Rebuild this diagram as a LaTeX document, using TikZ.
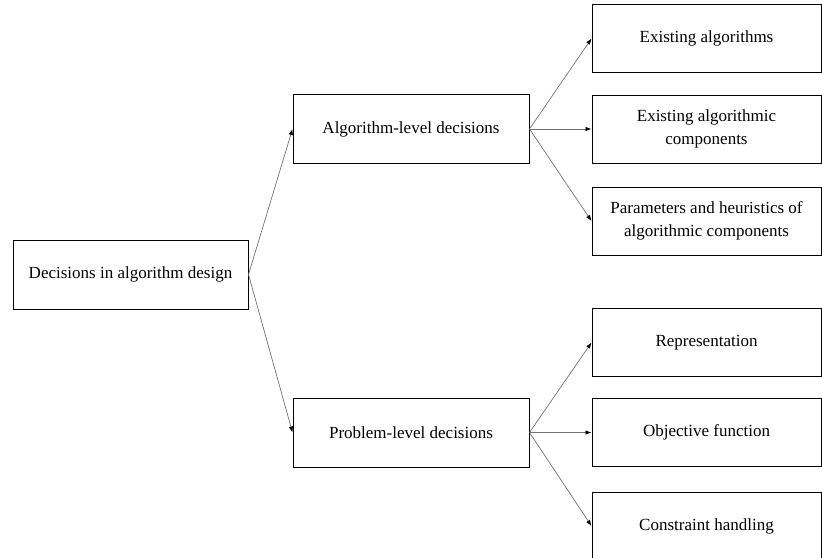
\documentclass[tikz,border=0pt]{standalone}
\usepackage{fontspec}
\setmainfont{Liberation Serif}
\usetikzlibrary{arrows.meta}
\tikzset{
  box/.style={draw=black, line width=1pt, rectangle, align=center,
    inner sep=0pt, font=\fontsize{17}{23.5}\selectfont},
  rootbox/.style={box, minimum width=235pt, minimum height=69pt},
  midbox/.style={box, minimum width=236pt, minimum height=69pt},
  leafbox/.style={box, minimum width=229pt, minimum height=68pt},
  arr/.style={draw=black!55, line width=0.7pt,
    -{Latex[length=6pt,width=4.5pt,color=black]}}
}
\begin{document}
\begin{tikzpicture}[x=1pt,y=-1pt]
\useasboundingbox (0,0) rectangle (822,557);
% decision tree
\node[rootbox] (root) at (130.5,274.5) {Decisions in algorithm design};
\node[midbox] (alg) at (411,129) {Algorithm-level decisions};
\node[midbox] (prob) at (411,432.5) {Problem-level decisions};
\node[leafbox] (ea) at (706.5,38.5) {Existing algorithms};
\node[leafbox] (ec) at (706.5,129) {Existing algorithmic\\components};
\node[leafbox] (ph) at (706.5,221) {Parameters and heuristics of\\algorithmic components};
\node[leafbox] (rep) at (706.5,342.5) {Representation};
\node[leafbox] (obj) at (706.5,432.5) {Objective function};
\node[leafbox] (con) at (706.5,526) {Constraint handling};
% connectors
\draw[arr] (root.east) -- (alg.west);
\draw[arr] (root.east) -- (prob.west);
\foreach \t in {ea,ec,ph} \draw[arr] (alg.east) -- (\t.west);
\foreach \t in {rep,obj,con} \draw[arr] (prob.east) -- (\t.west);
\end{tikzpicture}
\end{document}
